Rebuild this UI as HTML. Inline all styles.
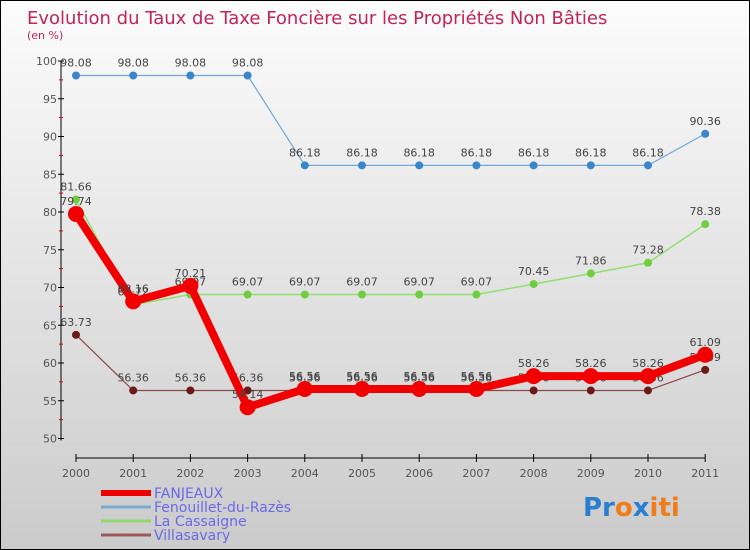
<!DOCTYPE html>
<html><head><meta charset="utf-8"><style>
body{margin:0}
#c{width:750px;height:550px;position:relative;box-sizing:border-box;border:1px solid #000;background:linear-gradient(#fcfcfc,#cbcbcb);font-family:"DejaVu Sans","Liberation Sans",sans-serif;overflow:hidden}
</style></head><body>
<div id="c">
<svg id="s" width="748" height="548"></svg>
</div>
<script>
const years=["2000","2001","2002","2003","2004","2005","2006","2007","2008","2009","2010","2011"];
const fanjeaux=[79.74,68.16,70.21,54.14,56.56,56.56,56.56,56.56,58.26,58.26,58.26,61.09];
const fenouillet=[98.08,98.08,98.08,98.08,86.18,86.18,86.18,86.18,86.18,86.18,86.18,90.36];
const cassaigne=[81.66,67.72,69.07,69.07,69.07,69.07,69.07,69.07,70.45,71.86,73.28,78.38];
const villasavary=[63.73,56.36,56.36,56.36,56.36,56.36,56.36,56.36,56.36,56.36,56.36,59.09];
const yTicks=[50,55,60,65,70,75,80,85,90,95,100];
const NS="http://www.w3.org/2000/svg",s=document.getElementById('s');
function X(i){return 75+i*57.2;}
function Y(v){return 60+(100-v)*7.55;}
function el(t,a,p){const e=document.createElementNS(NS,t);for(const k in a)e.setAttribute(k,a[k]);(p||s).appendChild(e);return e;}
function txt(x,y,str,a){const e=el('text',Object.assign({x:x,y:y,'font-size':11,fill:'#444'},a||{}));e.textContent=str;return e;}
let t=txt(26,23,"Evolution du Taux de Taxe Foncière sur les Propriétés Non Bâties",{'font-size':18,fill:'#c0245a'});

t=txt(26,38,"(en %)",{'font-size':11,fill:'#c0245a'});

// axes
let a=el('line',{x1:60,y1:Y(100),x2:60,y2:Y(50)+2,stroke:'#000'});

a=el('line',{x1:X(0),y1:457,x2:X(11),y2:457,stroke:'#000'});

yTicks.forEach(v=>{el('line',{x1:57,y1:Y(v),x2:63,y2:Y(v),stroke:'#000'});
 if(v<100)el('line',{x1:58,y1:Y(v+2.5),x2:62,y2:Y(v+2.5),stroke:'#d00'});
 const l=txt(56,Y(v)+4,String(v),{'text-anchor':'end',fill:'#555'});
 });
years.forEach((y,i)=>{el('line',{x1:X(i),y1:453,x2:X(i),y2:461,stroke:'#000'});
 const l=txt(X(i),476,y,{'text-anchor':'middle',fill:'#555'});
 });
function series(name,vals,color,w,r,pt){
 const g=el('g',{});
 el('polyline',{points:vals.map((v,i)=>X(i)+','+Y(v)).join(' '),fill:'none',stroke:color,'stroke-width':w,'stroke-linejoin':'round'},g);
 vals.forEach((v,i)=>{const c=el('circle',{cx:X(i),cy:Y(v),r:r,fill:pt},g);
  
  const l=txt(X(i),Y(v)-9,v.toFixed(2),{'text-anchor':'middle',fill:'#444'},g);
  });
}
series('villasavary',villasavary,'#8a4a4a',1.2,4,'#6b1a1a');
series('cassaigne',cassaigne,'#90e070',1.5,4,'#70cc40');
series('fenouillet',fenouillet,'#6fa8d8',1.2,4,'#3a86c8');
series('fanjeaux',fanjeaux,'#f00000',8,8,'#f00000');
// legend
const leg=[["FANJEAUX","#ee0000",6],["Fenouillet-du-Razès","#7aaad0",3],["La Cassaigne","#90d870",3],["Villasavary","#9a5a5a",3]];
leg.forEach((l,i)=>{const y=492+i*14;
 const g=el('g',{});
 el('line',{x1:100,y1:y,x2:150,y2:y,stroke:l[1],'stroke-width':l[2]},g);
 txt(153,y+5,l[0],{'font-size':14,fill:'#6a6ae8'},g);});
const p=el('text',{x:582,y:515,'font-size':26,'font-weight':'bold'});

[["Pr","#2a7fd0"],["o","#f07c1a"],["x","#2a7fd0"],["iti","#f07c1a"]].forEach(q=>{const ts=el('tspan',{fill:q[1]},p);ts.textContent=q[0];});
</script>
</body></html>
